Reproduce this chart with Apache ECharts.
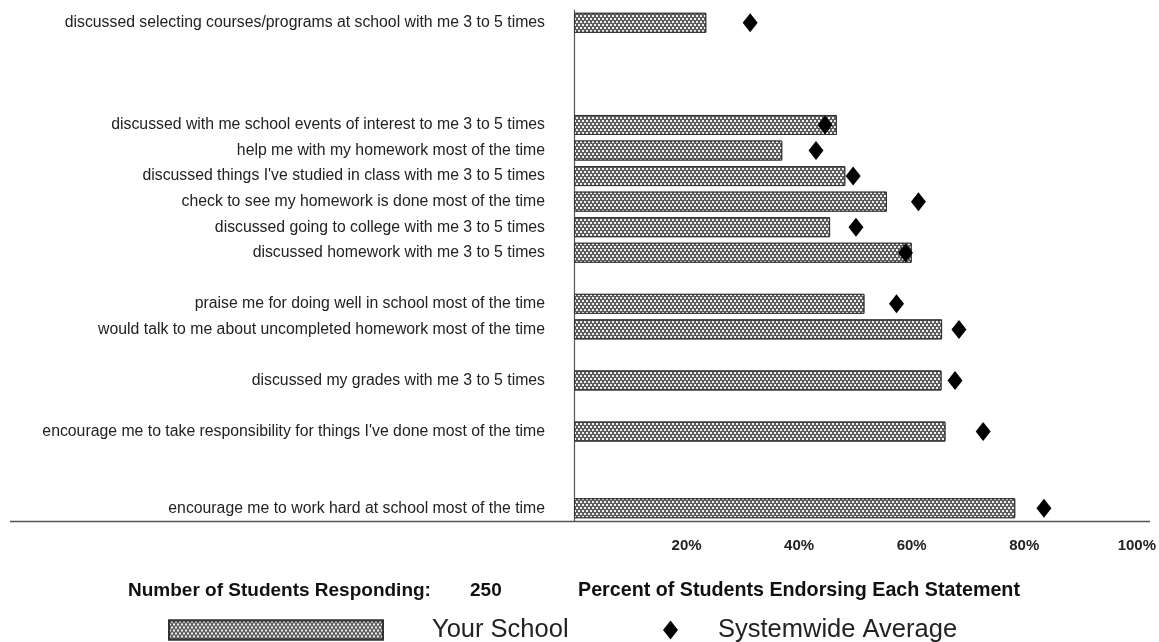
<!DOCTYPE html>
<html>
<head>
<meta charset="utf-8">
<script src="https://cdn.jsdelivr.net/npm/echarts@6/dist/echarts.min.js"></script>
<style>
html,body{margin:0;padding:0;background:#fff;}
#chart{width:1159px;height:642px;}
</style>
</head>
<body>
<div id="chart"></div>
<script>
// Rows from top to bottom; empty strings are blank spacer rows in the original.
var categories = [
  'discussed selecting courses/programs at school with me 3 to 5 times',
  '', '', '',
  'discussed with me school events of interest to me 3 to 5 times',
  'help me with my homework most of the time',
  "discussed things I've studied in class with me 3 to 5 times",
  'check to see my homework is done most of the time',
  'discussed going to college with me 3 to 5 times',
  'discussed homework with me 3 to 5 times',
  '',
  'praise me for doing well in school most of the time',
  'would talk to me about uncompleted homework most of the time',
  '',
  'discussed my grades with me 3 to 5 times',
  '',
  "encourage me to take responsibility for things I've done most of the time",
  '', '',
  'encourage me to work hard at school most of the time'
];
var yourSchool = [23.5, null, null, null, 46.7, 37.0, 48.2, 55.6, 45.5, 60.0, null, 51.6, 65.4, null, 65.3, null, 66.0, null, null, 78.4];
var systemwide = [31.3, null, null, null, 44.6, 43.0, 49.6, 61.2, 50.1, 58.9, null, 57.3, 68.4, null, 67.7, null, 72.7, null, null, 83.5];
var xTicks = [0, 20, 40, 60, 80, 100];
var studentsResponding = '250';

var FONT = '"Liberation Sans", Arial, Helvetica, sans-serif';
var hatch = {
  symbol: 'rect',
  symbolSize: 1,
  color: '#f0f0f0',
  dashArrayX: [[2, 2], [0, 2, 2, 0]],
  dashArrayY: [2, 1],
  rotation: 0
};

var chart = echarts.init(document.getElementById('chart'));
chart.setOption({
  animation: false,
  backgroundColor: '#ffffff',
  grid: {left: 574, right: 19, top: 10, bottom: 121, containLabel: false},
  xAxis: {
    type: 'value',
    min: xTicks[0],
    max: xTicks[xTicks.length - 1],
    interval: 20,
    axisLine: {show: false},
    axisTick: {show: false},
    splitLine: {show: false},
    axisLabel: {
      margin: 17,
      fontFamily: FONT,
      fontWeight: 'bold',
      fontSize: 15,
      color: '#222',
      formatter: function (v) { return v === 0 ? '' : v + '%'; }
    }
  },
  yAxis: {
    type: 'category',
    inverse: true,
    data: categories,
    axisLine: {show: true, lineStyle: {color: '#555', width: 1.2}},
    axisTick: {show: false},
    splitLine: {show: false},
    axisLabel: {margin: 29, fontFamily: FONT, fontSize: 15.8, color: '#222'}
  },
  legend: [
    {
      data: [{name: 'Your School', icon: 'rect'}],
      left: 163, top: 612,
      itemWidth: 214, itemHeight: 19,
      selectedMode: false,
      textStyle: {fontFamily: FONT, fontSize: 25.5, color: '#222', padding: [0, 0, 0, 44]}
    },
    {
      data: [{name: 'Systemwide Average', icon: 'diamond'}],
      left: 658, top: 612,
      itemWidth: 15, itemHeight: 19,
      selectedMode: false,
      textStyle: {fontFamily: FONT, fontSize: 25.5, color: '#222', padding: [0, 0, 0, 35]}
    }
  ],
  graphic: [
    {type: 'line', shape: {x1: 10, y1: 521.5, x2: 1150, y2: 521.5}, style: {stroke: '#555', lineWidth: 1.5}, z: 10},
    {type: 'text', left: 128, top: 581, style: {text: 'Number of Students Responding:', font: 'bold 19px ' + FONT, fill: '#111'}},
    {type: 'text', left: 470, top: 581, style: {text: studentsResponding, font: 'bold 19px ' + FONT, fill: '#111'}},
    {type: 'text', left: 578, top: 581, style: {text: 'Percent of Students Endorsing Each Statement', font: 'bold 19.7px ' + FONT, fill: '#111'}}
  ],
  series: [
    {
      name: 'Your School',
      type: 'bar',
      data: yourSchool,
      barWidth: 20,
      itemStyle: {color: '#5e5e5e', borderColor: '#333', borderWidth: 1, decal: hatch},
      emphasis: {disabled: true}
    },
    {
      name: 'Systemwide Average',
      type: 'scatter',
      data: systemwide,
      symbol: 'diamond',
      symbolSize: [15, 19],
      itemStyle: {color: '#000', opacity: 1},
      z: 5
    }
  ]
});
</script>
</body>
</html>
